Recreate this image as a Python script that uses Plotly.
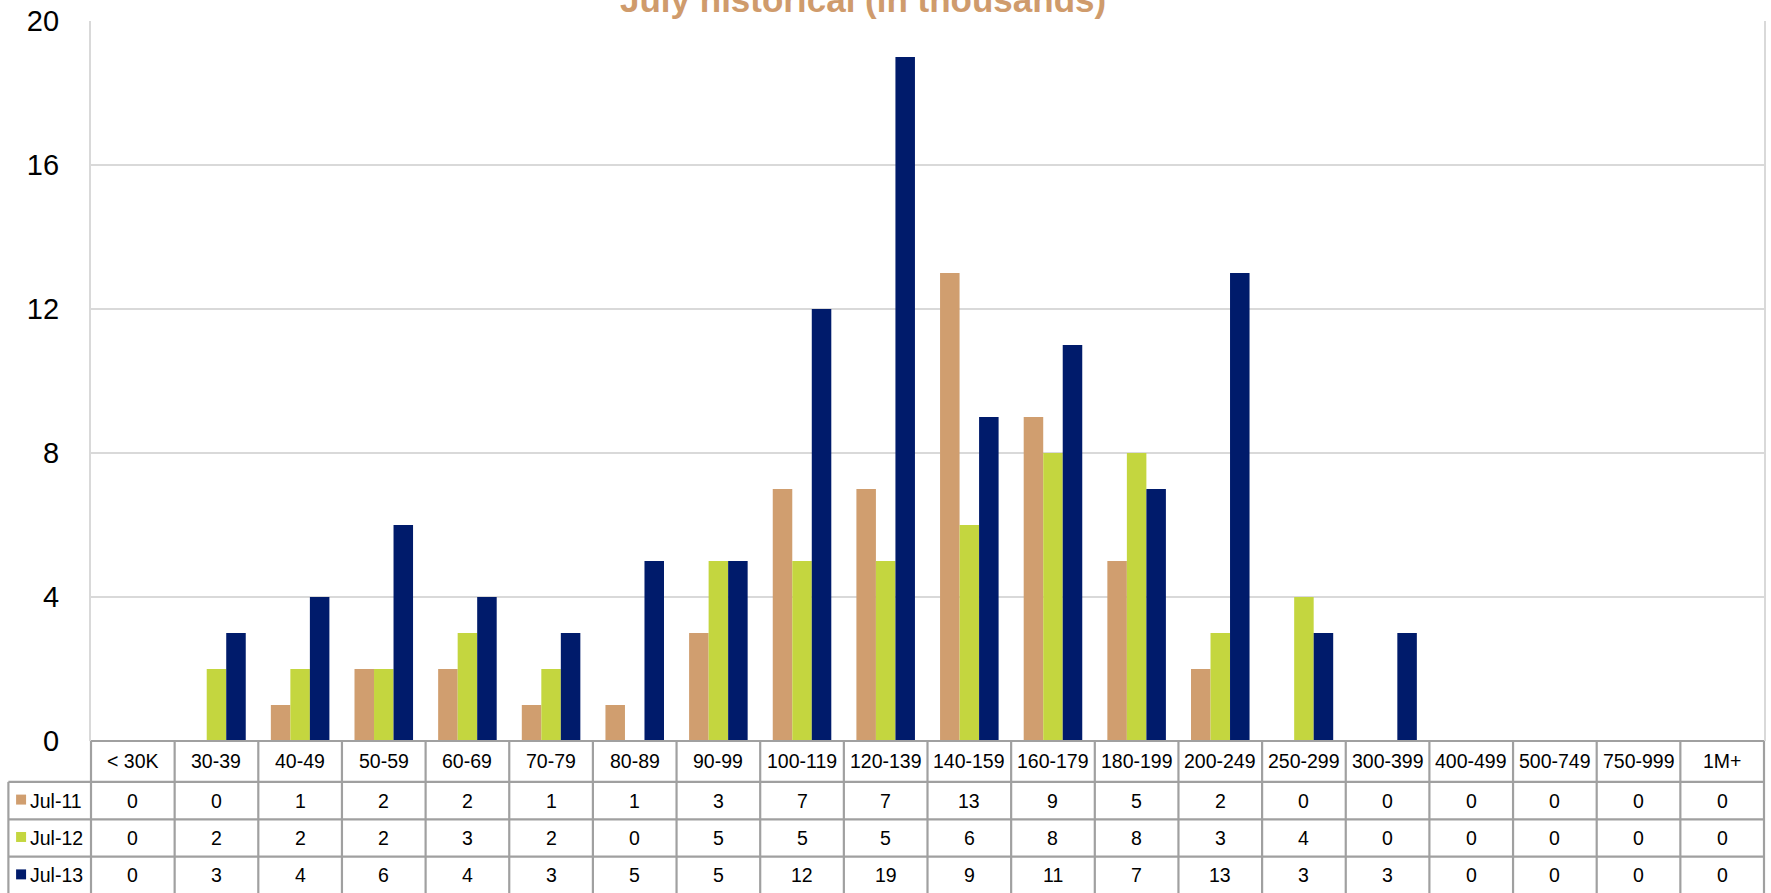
import plotly.graph_objects as go

categories = ["< 30K", "30-39", "40-49", "50-59", "60-69", "70-79", "80-89", "90-99",
              "100-119", "120-139", "140-159", "160-179", "180-199", "200-249",
              "250-299", "300-399", "400-499", "500-749", "750-999", "1M+"]
series_names = ["Jul-11", "Jul-12", "Jul-13"]
jul11 = [0, 0, 1, 2, 2, 1, 1, 3, 7, 7, 13, 9, 5, 2, 0, 0, 0, 0, 0, 0]
jul12 = [0, 2, 2, 2, 3, 2, 0, 5, 5, 5, 6, 8, 8, 3, 4, 0, 0, 0, 0, 0]
jul13 = [0, 3, 4, 6, 4, 3, 5, 5, 12, 19, 9, 11, 7, 13, 3, 3, 0, 0, 0, 0]
y_ticks = [0, 4, 8, 12, 16, 20]
title_text = "July historical (in thousands)"

series_values = [jul11, jul12, jul13]
colors = ["#D09E6F", "#C4D63F", "#001B6B"]

W, H = 1771, 893
ML, MR, MT, MB = 91, 5, 19, 152
PW = W - ML - MR
PH = H - MT - MB
BASE = H - MB  # pixel y of value 0

def px_x(p):
    return (p - ML) / PW

def px_y(p):
    return (BASE - p) / PH

fig = go.Figure()
for name, vals, col in zip(series_names, series_values, colors):
    fig.add_trace(go.Bar(x=categories, y=vals, name=name, marker_color=col,
                         marker_line_width=0, showlegend=False))

FONT = "Liberation Sans, Arial, sans-serif"
TABLE_LINE = "#A0A0A0"
n = len(categories)
header_h = 41
row_h = 37.5
row_tops = [BASE, BASE + header_h, BASE + header_h + row_h,
            BASE + header_h + 2 * row_h, BASE + header_h + 3 * row_h]
legend_left = 8.3

shapes = []
# horizontal lines
shapes.append(dict(type="line", xref="paper", yref="paper", x0=0, x1=1,
                   y0=px_y(row_tops[0]), y1=px_y(row_tops[0]),
                   line=dict(color=TABLE_LINE, width=2.2)))
for yt in row_tops[1:]:
    shapes.append(dict(type="line", xref="paper", yref="paper", x0=px_x(legend_left), x1=1,
                       y0=px_y(yt), y1=px_y(yt), line=dict(color=TABLE_LINE, width=2.2)))
# vertical lines
for i in range(n + 1):
    xp = i / n
    shapes.append(dict(type="line", xref="paper", yref="paper", x0=xp, x1=xp,
                       y0=px_y(row_tops[0]), y1=px_y(row_tops[-1]),
                       line=dict(color=TABLE_LINE, width=2.2)))
shapes.append(dict(type="line", xref="paper", yref="paper", x0=px_x(legend_left), x1=px_x(legend_left),
                   y0=px_y(row_tops[1]), y1=px_y(row_tops[-1]),
                   line=dict(color=TABLE_LINE, width=2.2)))
# legend squares
for k, col in enumerate(colors):
    cy = (row_tops[k + 1] + row_tops[k + 2]) / 2 - 1
    shapes.append(dict(type="rect", xref="paper", yref="paper",
                       x0=px_x(16), x1=px_x(26), y0=px_y(cy - 5), y1=px_y(cy + 5),
                       fillcolor=col, line=dict(width=0)))

annotations = []
hy = px_y((row_tops[0] + row_tops[1]) / 2)
for i, c in enumerate(categories):
    annotations.append(dict(x=(i + 0.5) / n, y=hy, xref="paper", yref="paper",
                            text=c, showarrow=False, xanchor="center", yanchor="middle",
                            font=dict(family=FONT, size=19.5, color="#000000")))
for k, (name, vals) in enumerate(zip(series_names, series_values)):
    ry = px_y((row_tops[k + 1] + row_tops[k + 2]) / 2)
    annotations.append(dict(x=px_x(28), y=ry, xref="paper", yref="paper",
                            text=name, showarrow=False, xanchor="left", yanchor="middle",
                            font=dict(family=FONT, size=19.5, color="#000000")))
    for i, v in enumerate(vals):
        annotations.append(dict(x=(i + 0.5) / n, y=ry, xref="paper", yref="paper",
                                text=str(v), showarrow=False, xanchor="center", yanchor="middle",
                                font=dict(family=FONT, size=19.5, color="#000000")))
# title (partially above the page, as in the reference)
annotations.append(dict(x=px_x(864), y=1.0, xref="paper", yref="paper",
                        text="<b>" + title_text + "</b>", showarrow=False,
                        xanchor="center", yanchor="bottom",
                        font=dict(family=FONT, size=35, color="#CF9B6C")))

fig.update_layout(
    width=W, height=H,
    margin=dict(l=ML, r=MR, t=MT, b=MB, pad=0),
    paper_bgcolor="white", plot_bgcolor="white",
    barmode="group", bargap=0.30, bargroupgap=0,
    shapes=shapes, annotations=annotations,
    xaxis=dict(showticklabels=False, showgrid=False, zeroline=False, showline=False,
               ticks="", range=[-0.5, n - 0.5], fixedrange=True),
    yaxis=dict(range=[0, 20], tickvals=y_ticks, showgrid=True, gridcolor="#D9D9D9",
               gridwidth=2.2, zeroline=False, showline=True, linecolor="#D9D9D9",
               linewidth=2.2, mirror=True, ticks="", ticklabelstandoff=24,
               tickfont=dict(family=FONT, size=29, color="#000000"), fixedrange=True),
    font=dict(family=FONT),
)

fig.write_html("out.html", config={"displayModeBar": False})
